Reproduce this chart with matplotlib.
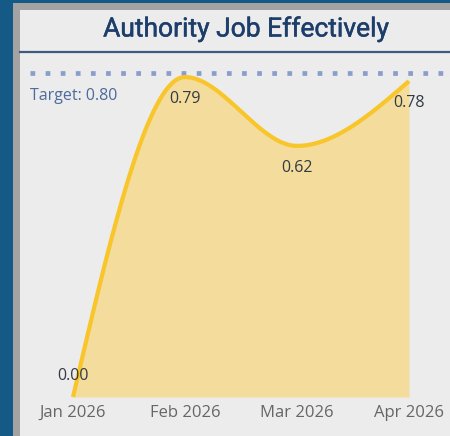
import numpy as np
import matplotlib.pyplot as plt
import matplotlib.patheffects as pe
from matplotlib.patches import Rectangle
from matplotlib.lines import Line2D

# chart data
months = ['Jan 2026', 'Feb 2026', 'Mar 2026', 'Apr 2026']
values = [0.00, 0.79, 0.62, 0.78]
target = 0.80
title = 'Authority Job Effectively'

W, H = 450, 436


def monotone_curve(x, y, n=60):
    """Smooth monotone cubic (like d3 curveMonotoneX) through the points."""
    x = np.asarray(x, float)
    y = np.asarray(y, float)
    h = np.diff(x)
    s = np.diff(y) / h
    m = np.zeros_like(y)
    for i in range(1, len(y) - 1):
        if s[i - 1] * s[i] <= 0:
            m[i] = 0
        else:
            p = (s[i - 1] * h[i] + s[i] * h[i - 1]) / (h[i - 1] + h[i])
            m[i] = (np.sign(s[i - 1]) + np.sign(s[i])) * min(abs(s[i - 1]), abs(s[i]), 0.5 * abs(p))
    m[0] = (3 * s[0] - m[1]) / 2
    m[-1] = (3 * s[-1] - m[-2]) / 2
    xs, ys = [], []
    for i in range(len(h)):
        t = np.linspace(0, 1, n)
        h00 = 2 * t**3 - 3 * t**2 + 1
        h10 = t**3 - 2 * t**2 + t
        h01 = -2 * t**3 + 3 * t**2
        h11 = t**3 - t**2
        xs.append(x[i] + t * h[i])
        ys.append(h00 * y[i] + h10 * h[i] * m[i] + h01 * y[i + 1] + h11 * h[i] * m[i + 1])
    return np.concatenate(xs), np.concatenate(ys)


fig = plt.figure(figsize=(W / 100, H / 100), dpi=100)
fig.patch.set_facecolor('#155a86')

# card frame
fig.patches.append(Rectangle((13 / W, 0), 1, 1 - 3 / H, transform=fig.transFigure,
                             facecolor='#a3a3a3', edgecolor='none', zorder=-2))
fig.patches.append(Rectangle((20 / W, 0), 1, 1 - 10 / H, transform=fig.transFigure,
                             facecolor='#ececec', edgecolor='none', zorder=-1))
fig.lines.append(Line2D([20 / W, 1], [1 - 52 / H, 1 - 52 / H], transform=fig.transFigure,
                        color='#3f5a80', linewidth=1.6))
fig.text(246 / W, 1 - 29 / H, title, ha='center', va='center', fontsize=19,
         color='#1d3d6b', family='Roboto', fontweight='normal',
         path_effects=[pe.withStroke(linewidth=0.35, foreground='#1d3d6b')])

# axes placement: data x 0 -> px 73, x 3 -> px 409 ; y 0 -> px 397, 0.8 -> px 73
ax_l, ax_r, ax_t, ax_b = 20, 450, 56, 402
ax = fig.add_axes([ax_l / W, 1 - ax_b / H, (ax_r - ax_l) / W, (ax_b - ax_t) / H])
ax.set_zorder(2)
ax.set_facecolor('none')
px_x = (409 - 73) / 3
px_y = (397 - 73) / 0.8
ax.set_xlim((ax_l - 73) / px_x, 3 + (ax_r - 409) / px_x)
ax.set_ylim(-(ax_b - 397) / px_y, 0.8 + (73 - ax_t) / px_y)
for sp in ax.spines.values():
    sp.set_visible(False)
ax.set_yticks([])

xi = np.arange(len(months))
cx, cy = monotone_curve(xi, values)
ax.fill_between(cx, cy, 0, color='#f3dc9c', linewidth=0, zorder=1)
ax.plot(cx, cy, color='#f8c52a', linewidth=3, solid_capstyle='butt', zorder=3)

# target line
ax.axhline(target, xmin=10 / (ax_r - ax_l), xmax=1, color='#8b9dca', linewidth=3.4,
           linestyle=(0, (1, 2.2)), dash_capstyle='butt', zorder=2)
ax.annotate(f'Target: {target:.2f}', xy=(0, target), xycoords=('axes fraction', 'data'),
            xytext=(10, -23), textcoords='offset pixels', ha='left', va='center',
            fontsize=11.5, color='#4d6b9c', family='Open Sans')

# data labels
for i, v in enumerate(values):
    dy = 21 if v == 0 else -22
    ax.annotate(f'{v:.2f}', xy=(i, v), xytext=(0, dy), textcoords='offset pixels',
                ha='center', va='center', fontsize=11.5, color='#343a45',
                family='Open Sans', zorder=4)

ax.set_xticks(xi)
ax.set_xticklabels(months, fontsize=12, color='#666666', family='Open Sans')
ax.tick_params(axis='x', length=0, pad=2)

fig.savefig('out.png', dpi=100, facecolor=fig.get_facecolor())
